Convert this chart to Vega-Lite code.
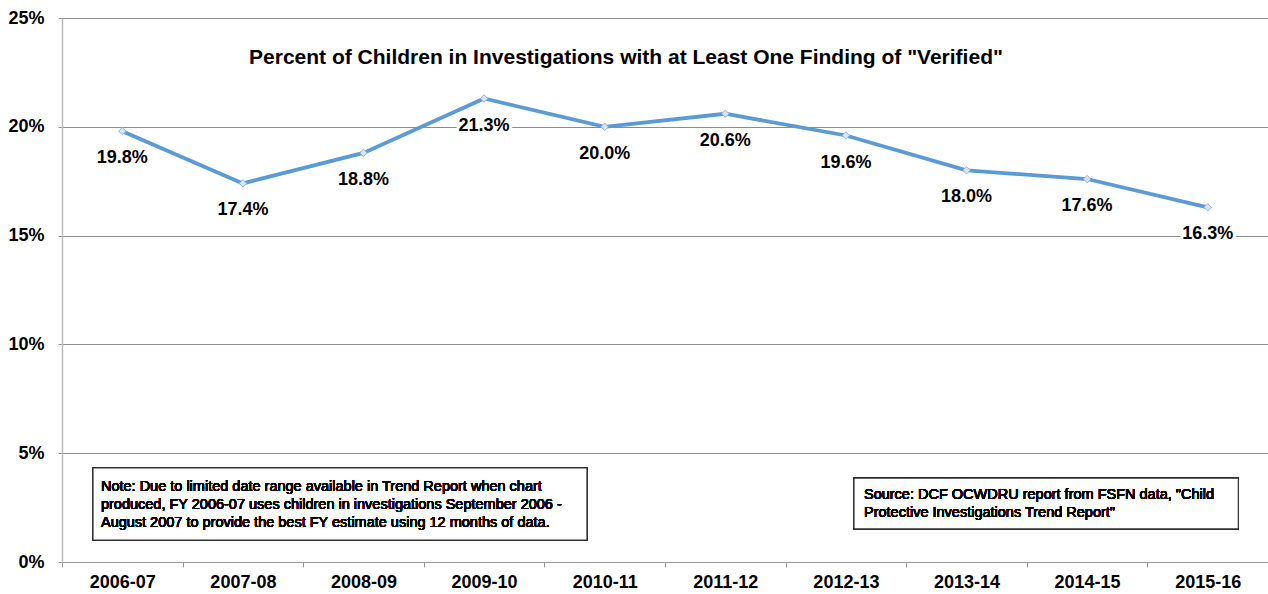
{
  "$schema": "https://vega.github.io/schema/vega-lite/v6.json",
  "autosize": {"type": "none"},
  "width": 1206,
  "height": 544,
  "padding": {"left": 62, "top": 18, "right": 0, "bottom": 32},
  "background": "white",
  "config": {
    "font": "Liberation Sans",
    "view": {"stroke": null}
  },
  "title": {
    "text": "Percent of Children in Investigations with at Least One Finding of \"Verified\"",
    "font": "Liberation Sans",
    "fontSize": 21,
    "fontWeight": "bold",
    "color": "#000000",
    "anchor": "middle",
    "frame": "group",
    "offset": -59,
    "dx": -39
  },
  "data": {
    "values": [
      {"year": "2006-07", "pct": 0.198},
      {"year": "2007-08", "pct": 0.174},
      {"year": "2008-09", "pct": 0.188},
      {"year": "2009-10", "pct": 0.213},
      {"year": "2010-11", "pct": 0.200},
      {"year": "2011-12", "pct": 0.206},
      {"year": "2012-13", "pct": 0.196},
      {"year": "2013-14", "pct": 0.180},
      {"year": "2014-15", "pct": 0.176},
      {"year": "2015-16", "pct": 0.163}
    ]
  },
  "resolve": {"scale": {"x": "independent"}, "axis": {"x": "independent"}},
  "layer": [
    {
      "mark": {"type": "line", "color": "#5B9BD5", "strokeWidth": 3.8},
      "encoding": {
        "x": {
          "field": "year", "type": "nominal", "sort": null,
          "scale": {"type": "band", "paddingInner": 0, "paddingOuter": 0},
          "axis": {
            "title": null, "labelAngle": 0, "labelFont": "Liberation Sans", "labelFontSize": 18,
            "labelFontWeight": "bold", "labelColor": "#000000", "labelPadding": 6,
            "tickBand": "extent", "tickSize": 5, "tickColor": "#999999",
            "domainColor": "#999999", "grid": false
          }
        },
        "y": {
          "field": "pct", "type": "quantitative",
          "scale": {"domain": [0, 0.25], "nice": false},
          "axis": {
            "title": null, "format": ".0%", "values": [0, 0.05, 0.1, 0.15, 0.2, 0.25],
            "labelFont": "Liberation Sans", "labelFontSize": 18, "labelFontWeight": "bold",
            "labelColor": "#000000", "labelPadding": 14, "tickSize": 4, "tickColor": "#999999",
            "domainColor": "#bbbbbb", "domainWidth": 1.5,
            "grid": true, "gridColor": "#8c8c8c", "gridWidth": 1
          }
        }
      }
    },
    {
      "mark": {"type": "point", "shape": "diamond", "filled": true, "fill": "#dbe5f1", "stroke": "#8eb4e3", "strokeWidth": 1, "size": 55, "opacity": 1},
      "encoding": {
        "x": {"field": "year", "type": "nominal", "sort": null, "scale": {"type": "band", "paddingInner": 0, "paddingOuter": 0}, "axis": null},
        "y": {"field": "pct", "type": "quantitative", "scale": {"domain": [0, 0.25], "nice": false}}
      }
    },
    {
      "mark": {"type": "text", "font": "Liberation Sans", "fontSize": 18, "fontWeight": "bold", "fill": "white", "stroke": "white", "strokeWidth": 6, "baseline": "middle", "dy": 27},
      "encoding": {
        "x": {"field": "year", "type": "nominal", "sort": null, "scale": {"type": "band", "paddingInner": 0, "paddingOuter": 0}, "axis": null},
        "y": {"field": "pct", "type": "quantitative", "scale": {"domain": [0, 0.25], "nice": false}},
        "text": {"field": "pct", "type": "quantitative", "format": ".1%"}
      }
    },
    {
      "mark": {"type": "text", "font": "Liberation Sans", "fontSize": 18, "fontWeight": "bold", "color": "#000000", "baseline": "middle", "dy": 27},
      "encoding": {
        "x": {"field": "year", "type": "nominal", "sort": null, "scale": {"type": "band", "paddingInner": 0, "paddingOuter": 0}, "axis": null},
        "y": {"field": "pct", "type": "quantitative", "scale": {"domain": [0, 0.25], "nice": false}},
        "text": {"field": "pct", "type": "quantitative", "format": ".1%"}
      }
    },
    {
      "mark": {"type": "rect", "fill": "white", "stroke": "#333333", "strokeWidth": 1.2},
      "encoding": {
        "x": {"datum": 0.257, "type": "quantitative", "scale": {"domain": [0, 10], "nice": false}, "axis": null},
        "x2": {"datum": 4.353},
        "y": {"datum": 0.0432, "type": "quantitative", "scale": {"domain": [0, 0.25], "nice": false}},
        "y2": {"datum": 0.0101}
      }
    },
    {
      "mark": {
        "type": "text", "font": "Liberation Sans", "fontSize": 14.5, "fontWeight": "normal", "color": "#000000",
        "align": "left", "baseline": "middle", "lineHeight": 18,
        "text": [
          "Note: Due to limited date range available in Trend Report when chart",
          "produced, FY 2006-07 uses children in investigations September 2006 -",
          "August 2007  to provide the best FY estimate using 12 months of data."
        ]
      },
      "encoding": {
        "x": {"datum": 0.323, "type": "quantitative", "scale": {"domain": [0, 10], "nice": false}, "axis": null},
        "y": {"datum": 0.0345, "type": "quantitative", "scale": {"domain": [0, 0.25], "nice": false}}
      }
    },
    {
      "mark": {"type": "rect", "fill": "white", "stroke": "#333333", "strokeWidth": 1.2},
      "encoding": {
        "x": {"datum": 6.567, "type": "quantitative", "scale": {"domain": [0, 10], "nice": false}, "axis": null},
        "x2": {"datum": 9.754},
        "y": {"datum": 0.0385, "type": "quantitative", "scale": {"domain": [0, 0.25], "nice": false}},
        "y2": {"datum": 0.0152}
      }
    },
    {
      "mark": {
        "type": "text", "font": "Liberation Sans", "fontSize": 14.5, "fontWeight": "normal", "color": "#000000",
        "align": "left", "baseline": "middle", "lineHeight": 18,
        "text": [
          "Source: DCF OCWDRU report from FSFN data, \"Child",
          "Protective Investigations Trend Report\""
        ]
      },
      "encoding": {
        "x": {"datum": 6.65, "type": "quantitative", "scale": {"domain": [0, 10], "nice": false}, "axis": null},
        "y": {"datum": 0.0308, "type": "quantitative", "scale": {"domain": [0, 0.25], "nice": false}}
      }
    }
  ]
}
